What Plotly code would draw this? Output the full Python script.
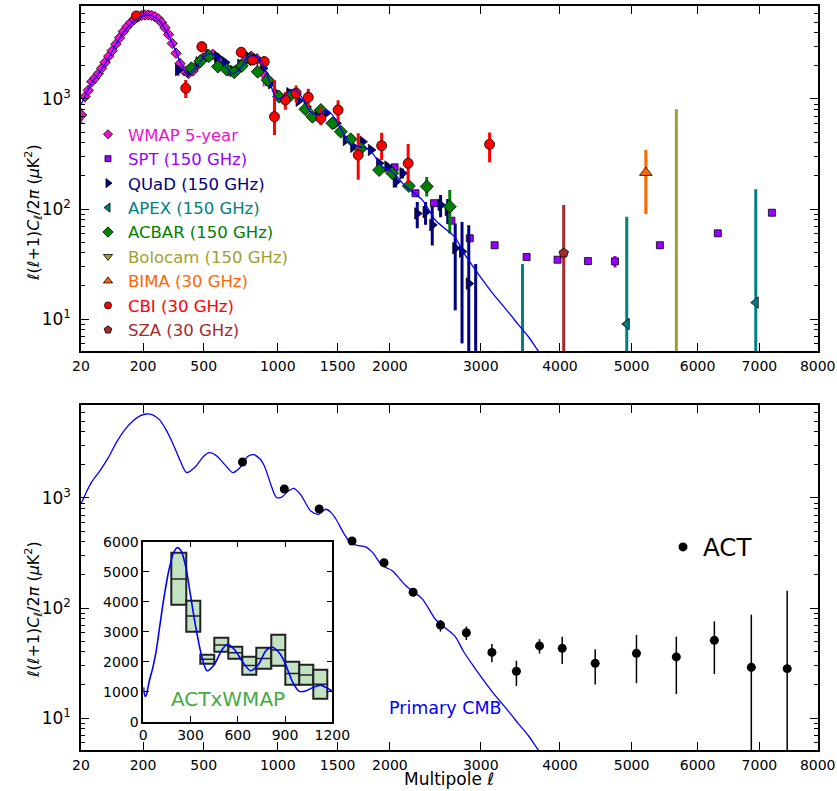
import numpy as np
import plotly.graph_objects as go

# ---------------- data ----------------
CMB_L = [2, 6, 12, 20, 30, 40, 59, 80, 105, 130, 162, 190, 214, 240, 272, 300, 335, 370, 405, 450,
         500, 535, 580, 630, 680, 730, 780, 820, 870, 900, 950, 990, 1030, 1080, 1125, 1180, 1266,
         1330, 1395, 1440, 1484, 1560, 1620, 1697, 1760, 1827, 1923, 2024, 2161, 2337, 2481, 2600,
         2703, 2800, 2937, 3035, 3134, 3259, 3381, 3465, 3589, 3716, 3900]
CMB_D = [1150, 930, 840, 900, 1150, 1400, 1770, 2300, 3200, 4100, 5040, 5600, 5800, 5700, 5100,
         4200, 3100, 2200, 1700, 1900, 2400, 2580, 2400, 2000, 1700, 1900, 2380, 2480, 2250, 1950,
         1300, 1010, 1020, 1150, 1220, 1080, 760, 710, 790, 740, 644, 470, 390, 368, 360, 320, 243,
         218, 160, 121, 79, 65, 55, 40, 28, 22, 17.5, 13.5, 10.5, 8.8, 6.9, 5.1, 3.5]

WMAP_L = [21, 27, 33, 40, 47, 55, 63, 72, 82, 92, 103, 115, 127, 140, 153, 166, 180, 194, 208, 222,
          236, 250, 265, 280, 296, 313, 331, 350, 370, 392, 415, 440, 466, 494, 523, 553, 585, 618,
          652, 688, 725, 764, 805, 848, 893]
WMAP_D = [715, 1050, 1200, 1436, 1550, 1700, 1900, 2150, 2450, 2750, 3150, 3600, 4100, 4550, 4950,
          5300, 5550, 5750, 5800, 5800, 5750, 5600, 5350, 4950, 4450, 3850, 3200, 2600, 2100, 1800,
          1700, 1800, 2050, 2350, 2550, 2550, 2350, 2050, 1800, 1750, 1950, 2250, 2450, 2300, 1700]
WMAP_E = [110, 120, 110, 110, 100, 100, 100, 100, 100, 110, 110, 120, 120, 130, 130, 140, 140, 150,
          150, 150, 150, 150, 150, 140, 130, 120, 110, 100, 90, 80, 80, 90, 100, 110, 120, 130, 140,
          140, 150, 170, 200, 230, 270, 320, 400]

SPT_L = [2048, 2265, 2465, 2660, 2871, 3167, 3565, 3968, 4380, 4760, 5420, 6320, 7210]
SPT_D = [239, 139, 113, 78.3, 54.1, 46.8, 36.6, 34.6, 33.6, 33.4, 46.8, 60.1, 92.5]
SPT_E = [8, 5, 4, 3, 2.5, 2.5, 2, 2, 2.5, 4, 3, 4, 6]

QUAD_L = [360, 420, 470, 530, 580, 630, 680, 730, 790, 840, 890, 924, 950, 1000, 1090, 1165, 1230,
          1323, 1395, 1489, 1574, 1643, 1730, 1811, 1892, 1974, 2059, 2128, 2284, 2373, 2446, 2538,
          2618, 2703, 2781, 2859, 2940]
QUAD_D = [1835, 1780, 2150, 2480, 2420, 2150, 1800, 2050, 2380, 2300, 1900, 1488, 1390, 1100, 1127,
          965, 850, 715, 741, 601, 424, 368, 409, 344, 260, 243, 177, 211, 91, 94, 71.6, 109, 98,
          44, 41, 21, 3]
QUAD_UP = [200, 120, 120, 120, 110, 100, 90, 90, 100, 100, 90, 80, 70, 60, 50, 45, 40, 35, 35, 30,
           25, 20, 22, 20, 18, 18, 20, 22, 25, 22, 33, 25, 25, 30, 35, 50, 28.6]
QUAD_DN = [200, 120, 120, 120, 110, 100, 90, 90, 100, 100, 90, 80, 70, 60, 50, 45, 40, 35, 35, 30,
           25, 20, 22, 20, 18, 18, 20, 22, 24, 22, 25, 25, 25, 32, 35, 20.5, 2.5]

APEX_L = [3513, 4930, 6940]
APEX_D = [3, 9.0, 14.1]
APEX_UP = [28.6, 76, 137]
APEX_DN = [2.5, 8.5, 13.6]

ACBAR_L = [430, 480, 530, 585, 640, 690, 740, 800, 851, 924, 1010, 1100, 1221, 1280, 1352, 1453,
           1529, 1619, 1715, 1892, 2024, 2195, 2386, 2641]
ACBAR_D = [1900, 2200, 2450, 1970, 1850, 1750, 2000, 2300, 1770, 1488, 1050, 1080, 806, 690, 794,
           601, 504, 430, 356, 226, 211, 162, 160, 105]
ACBAR_UP = [150, 130, 110, 100, 90, 80, 90, 100, 80, 70, 60, 50, 40, 35, 40, 30, 28, 25, 22, 18,
            18, 16, 35, 44]
ACBAR_DN = [150, 130, 110, 100, 90, 80, 90, 100, 80, 70, 60, 50, 40, 35, 40, 30, 28, 25, 22, 18,
            18, 16, 30, 45]

BOLO_L = [5670]
BOLO_D = [3]
BOLO_UP = [803]
BOLO_DN = [2.5]

BIMA_L = [5210]
BIMA_D = [214]
BIMA_UP = [129]
BIMA_DN = [124]

CBI_L = [174, 400, 489, 736, 816, 899, 975, 1059, 1145, 1245, 1352, 1504, 1690, 1917, 2188, 3106]
CBI_D = [5690, 1250, 2990, 2657, 2262, 2183, 690, 980, 1127, 1036, 667, 794, 310, 376, 260, 387]
CBI_UP = [500, 240, 330, 260, 230, 260, 800, 180, 200, 200, 184, 180, 177, 118, 130, 110]
CBI_DN = [500, 230, 330, 260, 230, 260, 220, 180, 200, 200, 90, 180, 126, 97, 89, 121]

SZA_L = [4050]
SZA_D = [39.8]
SZA_UP = [68.8]
SZA_DN = [39.0]

ACT_L = [745, 1051, 1337, 1632, 1941, 2240, 2537, 2831, 3134, 3436, 3731, 4030, 4481, 5072, 5670,
         6265, 6866, 7470]
ACT_D = [2124, 1207, 794, 406, 258, 139, 70.0, 59.6, 39.5, 26.6, 45.2, 43.0, 31.4, 38.7, 35.9,
         50.8, 28.9, 28.1]
ACT_UP = [60, 35, 25, 15, 10, 6, 7.8, 8.4, 7.5, 6.6, 6.9, 11.9, 10.8, 18.1, 19.0, 24.9, 58.0, 115.5]
ACT_DN = [60, 35, 25, 15, 10, 6, 9.0, 8.5, 7.4, 7.1, 6.7, 12.0, 11.2, 18.0, 19.4, 25.7, 28.4, 27.6]

# ACT x WMAP inset (bandpowers)
XW_LO = [180, 270, 360, 450, 540, 630, 720, 810, 900, 990, 1080]
XW_HI = [270, 360, 450, 540, 630, 720, 810, 900, 990, 1080, 1170]
XW_D = [4760, 3520, 2080, 2560, 2300, 1870, 2110, 2390, 1610, 1560, 1250]
XW_E = [860, 520, 150, 240, 190, 310, 355, 520, 390, 330, 490]

X_TICKS = [20, 200, 500, 1000, 1500, 2000, 3000, 4000, 5000, 6000, 7000, 8000]
INSET_XTICKS = [0, 300, 600, 900, 1200]
INSET_YTICKS = [0, 1000, 2000, 3000, 4000, 5000, 6000]

# ---------------- figure ----------------
P = 0.6  # power-law stretch of the multipole axis


def tx(v):
    return (np.asarray(v, dtype=float)) ** P


FONT = "DejaVu Sans"
W, H = 837, 791


def px_x(p):
    return p / W


def px_y(p):
    return (H - p) / H


fig = go.Figure()

SETS = []


def add_set(name, color, symbol, size, lsize, L, D, up, dn, thick=3):
    fig.add_trace(go.Scatter(
        x=tx(L), y=D, mode="markers",
        marker=dict(symbol=symbol, size=size, color=color, line=dict(color="black", width=0.8)),
        error_y=dict(type="data", symmetric=False, array=up, arrayminus=dn,
                     color=color, thickness=thick, width=0),
        xaxis="x", yaxis="y", showlegend=False, hoverinfo="skip"))
    SETS.append((name, color, symbol, lsize))


add_set("WMAP 5-year", "#EE11CC", "diamond", 8, 7, WMAP_L, WMAP_D, WMAP_E, WMAP_E, thick=1.5)
add_set("SPT (150 GHz)", "#9900FF", "square", 7, 6, SPT_L, SPT_D, SPT_E, SPT_E)
add_set("QUaD (150 GHz)", "#000080", "triangle-right", 10, 8, QUAD_L, QUAD_D, QUAD_UP, QUAD_DN)
add_set("APEX (150 GHz)", "#008080", "triangle-left", 10, 8, APEX_L, APEX_D, APEX_UP, APEX_DN)
add_set("ACBAR (150 GHz)", "#008000", "diamond", 10, 8, ACBAR_L, ACBAR_D, ACBAR_UP, ACBAR_DN)
add_set("Bolocam (150 GHz)", "#A0A030", "triangle-down", 10, 8, BOLO_L, BOLO_D, BOLO_UP, BOLO_DN)
add_set("BIMA (30 GHz)", "#FF6600", "triangle-up", 11, 8, BIMA_L, BIMA_D, BIMA_UP, BIMA_DN)
add_set("CBI (30 GHz)", "#FF0000", "circle", 10, 7, CBI_L, CBI_D, CBI_UP, CBI_DN)
add_set("SZA (30 GHz)", "#A52A2A", "pentagon", 10, 8, SZA_L, SZA_D, SZA_UP, SZA_DN)

# legend-only entries (small symbols, coloured labels)
for name, color, symbol, lsize in SETS:
    fig.add_trace(go.Scatter(
        x=[None], y=[None], mode="markers",
        name="<span style='color:%s'>%s</span>" % (color, name),
        marker=dict(symbol=symbol, size=lsize, color=color, line=dict(color="black", width=0.8)),
        xaxis="x", yaxis="y", showlegend=True, legend="legend", hoverinfo="skip"))

# primary CMB on both panels
for xa, ya in (("x", "y"), ("x2", "y2")):
    fig.add_trace(go.Scatter(x=tx(CMB_L), y=CMB_D, mode="lines",
                             line=dict(color="#0000FF", width=1.3, shape="spline", smoothing=0.8),
                             xaxis=xa, yaxis=ya, showlegend=False, hoverinfo="skip"))

# ACT points
fig.add_trace(go.Scatter(
    x=tx(ACT_L), y=ACT_D, mode="markers", name="ACT",
    marker=dict(symbol="circle", size=9, color="black"),
    error_y=dict(type="data", symmetric=False, array=ACT_UP, arrayminus=ACT_DN,
                 color="black", thickness=1.5, width=0),
    xaxis="x2", yaxis="y2", legend="legend2", showlegend=True, hoverinfo="skip"))

# inset: ACT x WMAP boxes
xw_c = [(a + b) / 2 for a, b in zip(XW_LO, XW_HI)]
xw_w = [b - a for a, b in zip(XW_LO, XW_HI)]
fig.add_trace(go.Bar(
    x=xw_c, y=[2 * e for e in XW_E], base=[d - e for d, e in zip(XW_D, XW_E)], width=xw_w,
    marker=dict(color="#C2E2C2", line=dict(color="#222222", width=2)),
    xaxis="x3", yaxis="y3", showlegend=False, hoverinfo="skip"))
fig.add_trace(go.Scatter(
    x=xw_c, y=XW_D, mode="markers", marker=dict(size=2, opacity=0),
    error_x=dict(type="data", array=[w / 2 for w in xw_w], color="#222222", thickness=1.5, width=0),
    xaxis="x3", yaxis="y3", showlegend=False, hoverinfo="skip"))
fig.add_trace(go.Scatter(
    x=[l for l in CMB_L if l <= 1300], y=[d for l, d in zip(CMB_L, CMB_D) if l <= 1300],
    mode="lines", line=dict(color="#0000FF", width=1.6, shape="spline", smoothing=0.8),
    xaxis="x3", yaxis="y3", showlegend=False, hoverinfo="skip"))

# ---------------- axes ----------------
xr = [float(tx(20)), float(tx(8000))]
yr = [np.log10(5.12), np.log10(7000)]
xdom = [81 / W, 817.7 / W]
common_x = dict(range=xr, tickmode="array", tickvals=tx(X_TICKS), ticktext=[str(t) for t in X_TICKS],
                ticks="inside", ticklen=8, tickwidth=1, tickcolor="black", showline=True,
                linecolor="black", linewidth=1.5, mirror="ticks", showgrid=False, zeroline=False,
                tickfont=dict(family=FONT, size=14, color="black"), domain=xdom, automargin=False,
                ticklabelstandoff=1)
minor_vals = [m * 10 ** k for k in range(0, 4) for m in range(2, 10)]
common_y = dict(type="log", range=yr, tickmode="array", tickvals=[10, 100, 1000],
                ticktext=["10<sup>1</sup>", "10<sup>2</sup>", "10<sup>3</sup>"],
                ticks="inside", ticklen=8, tickwidth=1, tickcolor="black", showline=True,
                linecolor="black", linewidth=1.5, mirror="ticks", showgrid=False, zeroline=False,
                minor=dict(tickmode="array", tickvals=minor_vals, ticks="inside", ticklen=4,
                           tickcolor="black", showgrid=False),
                tickfont=dict(family=FONT, size=17, color="black"), automargin=False,
                ticklabelstandoff=5)

ytitle = "<i>ℓ</i>(<i>ℓ</i>+1)<i>C<sub>ℓ</sub></i>/2<i>π</i> (<i>μ</i>K<sup>2</sup>)"
ann = []
for yc in (213, 610):
    ann.append(dict(text=ytitle, x=px_x(33), y=px_y(yc), xref="paper", yref="paper",
                    xanchor="center", yanchor="middle", textangle=-90, showarrow=False,
                    font=dict(family=FONT, size=16, color="black")))
ann += [
    dict(text="Primary CMB", x=px_x(387), y=px_y(708), xref="paper", yref="paper",
         xanchor="left", yanchor="middle", showarrow=False,
         font=dict(family=FONT, size=17.5, color="#0000FF")),
    dict(text="ACTxWMAP", x=px_x(169), y=px_y(699), xref="paper", yref="paper",
         xanchor="left", yanchor="middle", showarrow=False,
         font=dict(family=FONT, size=20, color="#44AA44")),
    dict(text="Multipole <i>ℓ</i>", x=px_x(449), y=px_y(791), xref="paper", yref="paper",
         xanchor="center", yanchor="bottom", showarrow=False,
         font=dict(family=FONT, size=17, color="black")),
]

fig.update_layout(
    width=W, height=H, margin=dict(l=0, r=0, t=0, b=0), autosize=False,
    paper_bgcolor="white", plot_bgcolor="white",
    font=dict(family=FONT, color="black"),
    xaxis=dict(common_x, anchor="y"),
    yaxis=dict(common_y, anchor="x", domain=[px_y(351), px_y(6)]),
    xaxis2=dict(common_x, anchor="y2"),
    yaxis2=dict(common_y, anchor="x2", domain=[px_y(750), px_y(405)]),
    xaxis3=dict(domain=[143.3 / W, 332.3 / W], anchor="y3", range=[0, 1200], tickmode="array",
                tickvals=INSET_XTICKS, ticks="inside", ticklen=6, tickcolor="black", showline=True,
                linecolor="black", linewidth=1.5, mirror="ticks", showgrid=False, zeroline=False,
                tickfont=dict(family=FONT, size=14, color="black"), automargin=False),
    yaxis3=dict(domain=[px_y(721.7), px_y(541.7)], anchor="x3", range=[0, 6000], tickmode="array",
                tickvals=INSET_YTICKS, ticks="inside", ticklen=6, tickcolor="black", showline=True,
                linecolor="black", linewidth=1.5, mirror="ticks", showgrid=False, zeroline=False,
                tickfont=dict(family=FONT, size=14, color="black"), automargin=False),
    bargap=0,
    legend=dict(x=px_x(88), y=px_y(117), xanchor="left", yanchor="top",
                font=dict(family=FONT, size=16.5), bgcolor="rgba(0,0,0,0)", borderwidth=0,
                itemwidth=30, tracegroupgap=0),
    legend2=dict(x=px_x(663), y=px_y(547), xanchor="left", yanchor="middle",
                 font=dict(family=FONT, size=24.5, color="black"), bgcolor="rgba(0,0,0,0)",
                 borderwidth=0, itemwidth=30),
    annotations=ann,
    showlegend=True,
)

fig.write_html("out.html")
